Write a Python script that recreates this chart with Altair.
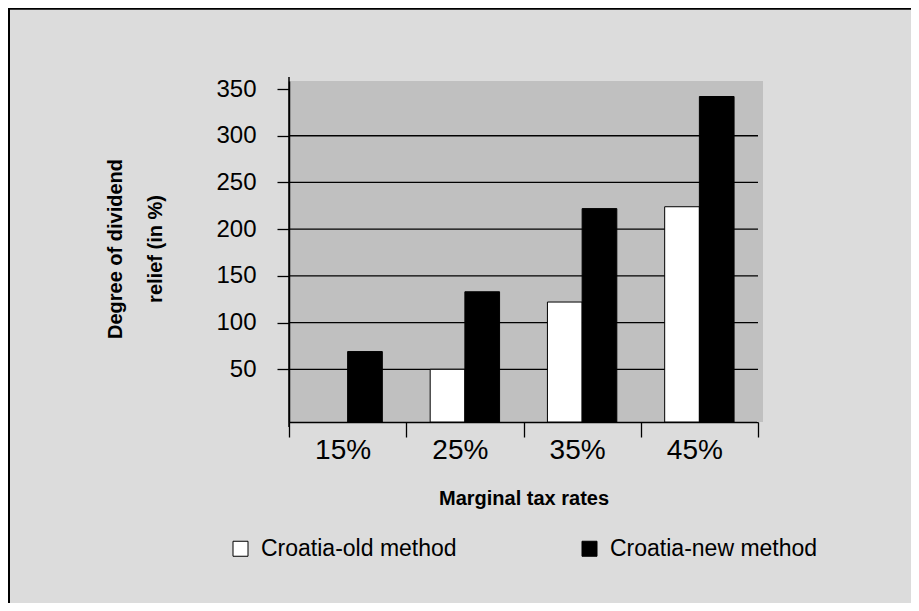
import altair as alt
import pandas as pd

categories = ["15%", "25%", "35%", "45%"]
series = ["Croatia-old method", "Croatia-new method"]
old_values = [None, 50, 122, 224]
new_values = [69, 133, 222, 342]
y_ticks = [50, 100, 150, 200, 250, 300, 350]
grid_values = [50, 100, 150, 200, 250, 300]
y_title = ["Degree of dividend", "relief (in %)"]
x_title = "Marginal tax rates"

rows = []
for c, o, n in zip(categories, old_values, new_values):
    if o is not None:
        rows.append({"rate": c, "series": series[0], "value": o})
    rows.append({"rate": c, "series": series[1], "value": n})
df = pd.DataFrame(rows)

W, H = 469, 341
YMIN, YMAX = -6.4, 358.6
FONT = "Liberation Sans"

y_scale = alt.Scale(domain=[YMIN, YMAX], nice=False, zero=False)
x_scale = alt.Scale(domain=categories, paddingInner=0, paddingOuter=0)

y_axis = alt.Axis(
    values=y_ticks, title=y_title, grid=False,
    domainColor="black", domainWidth=1.5,
    tickColor="black", tickSize=12, tickWidth=1.3,
    labelFont=FONT, labelFontSize=24, labelColor="black", labelPadding=21,
    titleFont=FONT, titleFontSize=20, titleFontWeight="bold",
    titleColor="black", titleLineHeight=40, titleAngle=-90,
    titleX=-184, titleY=H / 2 - 3, titleAlign="center", titleBaseline="top",
)

deco = pd.DataFrame({"a": [0]})
bg_ext = alt.Chart(deco).mark_rect(color="#c0c0c0").encode(
    x=alt.value(W - 1), x2=alt.value(W + 5), y=alt.value(0), y2=alt.value(H)
)

grid = alt.Chart(pd.DataFrame({"g": grid_values})).mark_rule(
    color="black", strokeWidth=1.3
).encode(y=alt.Y("g:Q", scale=y_scale, axis=y_axis, title=y_title))

bars = alt.Chart(df).mark_bar(stroke="black", strokeWidth=1).encode(
    x=alt.X(
        "rate:N", scale=x_scale, sort=categories,
        axis=alt.Axis(
            title=x_title, labelAngle=0, tickBand="extent",
            domainColor="black", domainWidth=1.5,
            tickColor="black", tickSize=15, tickWidth=1.3,
            labelFont=FONT, labelFontSize=28, labelColor="black",
            labelPadding=-1, labelOffset=-5,
            titleFont=FONT, titleFontSize=20, titleFontWeight="bold",
            titleColor="black", titlePadding=24,
        ),
    ),
    xOffset=alt.XOffset(
        "series:N", sort=series,
        scale=alt.Scale(domain=series, paddingInner=0, paddingOuter=0.69),
    ),
    y=alt.Y("value:Q", scale=y_scale, axis=y_axis, title=y_title),
    y2=alt.datum(YMIN),
    fill=alt.Fill(
        "series:N",
        scale=alt.Scale(domain=series, range=["#ffffff", "#000000"]),
        legend=alt.Legend(
            title=None, orient="none", legendX=-60, legendY=456,
            direction="horizontal", columns=2, columnPadding=121,
            symbolType="square", symbolSize=225, symbolStrokeColor="black",
            symbolStrokeWidth=1, labelFont=FONT, labelFontSize=23,
            labelColor="black", labelOffset=9, labelLimit=400,
        ),
    ),
)

yext = alt.Chart(deco).mark_rule(color="black", strokeWidth=1.5).encode(
    x=alt.value(0), y=alt.value(-4), y2=alt.value(H + 5)
)
border_left = alt.Chart(deco).mark_rule(color="black", strokeWidth=3).encode(
    x=alt.value(-280.5), y=alt.value(-80), y2=alt.value(540)
)
border_top = alt.Chart(deco).mark_rule(color="black", strokeWidth=2.5).encode(
    x=alt.value(-290), x2=alt.value(630), y=alt.value(-72.5)
)

chart = alt.layer(bg_ext, grid, bars, yext, border_left, border_top).properties(
    width=W, height=H,
    padding={"left": 281, "top": 73, "right": 153, "bottom": 181},
    autosize=alt.AutoSizeParams(type="none"),
    background="#dcdcdc",
).configure_view(fill="#c0c0c0", strokeWidth=0)

chart.save("out.html", embed_options={"renderer": "svg", "actions": False})
